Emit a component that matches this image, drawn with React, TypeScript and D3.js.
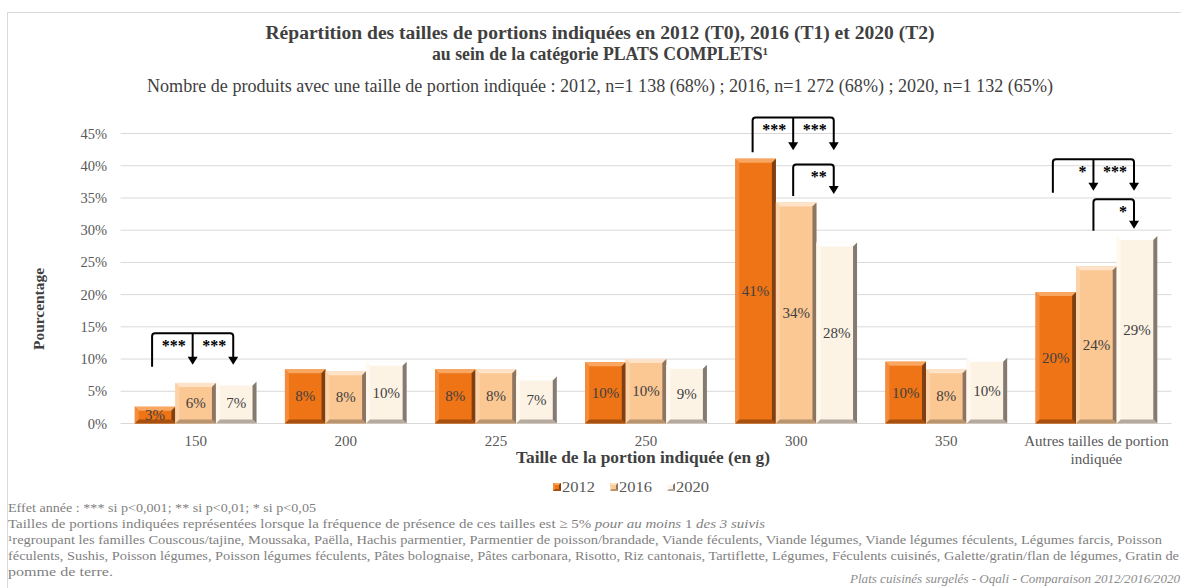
import React from "react";
import * as d3 from "d3";

const categories = ["150", "200", "225", "250", "300", "350", "Autres tailles de portion indiquée"];
const categoryLines = [["150"], ["200"], ["225"], ["250"], ["300"], ["350"], ["Autres tailles de portion", "indiquée"]];
const seriesNames = ["2012", "2016", "2020"];
const values2012 = [2.6, 8.4, 8.4, 9.5, 41.1, 9.6, 20.4];
const values2016 = [6.3, 8.1, 8.4, 10.0, 34.3, 8.4, 24.4];
const values2020 = [6.5, 9.6, 7.3, 9.1, 28.1, 10.2, 29.1];
const seriesValues = [values2012, values2016, values2020];
const yTicks = [0, 5, 10, 15, 20, 25, 30, 35, 40, 45];

// significance brackets: category index, from series, to series, level (%), base (%), labels
const bracketCats = [0, 4, 4, 6, 6];
const bracketFrom = [0, 0, 1, 0, 1];
const bracketTo = [[1, 2], [1, 2], [2], [1, 2], [2]];
const bracketLevel = [14.0, 47.5, 40.2, 41.0, 34.8];
const bracketBase = [8.8, 42.1, 35.3, 35.8, 29.9];
const bracketLabels = [["***", "***"], ["***", "***"], ["**"], ["*", "***"], ["*"]];

const titleLine1 = "Répartition des tailles de portions indiquées en 2012 (T0), 2016 (T1) et 2020 (T2)";
const titleLine2 = "au sein de la catégorie PLATS COMPLETS¹";
const subtitle = "Nombre de produits avec une taille de portion indiquée : 2012, n=1 138 (68%) ; 2016, n=1 272 (68%) ; 2020, n=1 132 (65%)";
const xTitle = "Taille de la portion indiquée (en g)";
const yTitle = "Pourcentage";
const note1 = "Effet année : *** si p<0,001; ** si p<0,01; * si p<0,05";
const note3 = "¹regroupant les familles Couscous/tajine, Moussaka, Paëlla, Hachis parmentier, Parmentier de poisson/brandade, Viande féculents, Viande légumes, Viande légumes féculents, Légumes farcis, Poisson";
const note4 = "féculents, Sushis, Poisson légumes, Poisson légumes féculents, Pâtes bolognaise, Pâtes carbonara, Risotto, Riz cantonais, Tartiflette, Légumes, Féculents cuisinés, Galette/gratin/flan de légumes, Gratin de";
const note5 = "pomme de terre.";
const footer = "Plats cuisinés surgelés - Oqali - Comparaison 2012/2016/2020";

const palettes = [
  { main: "#EF7416", top: "#F8A660", left: "#F38C3C", right: "#7E3F12", bottom: "#A8500F" },
  { main: "#FBC793", top: "#FEE3C8", left: "#FCD3A9", right: "#8E7562", bottom: "#B8946F" },
  { main: "#FDF3E5", top: "#FFFFFF", left: "#FFF9F0", right: "#857A70", bottom: "#B5AA9E" },
];

const FONT = "'Liberation Serif', 'Times New Roman', serif";

function BevelBar({ x, y, w, h, p, b }: any) {
  const bb = Math.min(b, h / 2, w / 2);
  const pts = (arr: number[][]) => arr.map((q) => q.join(",")).join(" ");
  return (
    <g>
      <rect x={x} y={y} width={w} height={h} fill={p.main} />
      <polygon points={pts([[x, y], [x + w, y], [x + w - bb, y + bb], [x + bb, y + bb]])} fill={p.top} />
      <polygon points={pts([[x, y], [x + bb, y + bb], [x + bb, y + h - bb], [x, y + h]])} fill={p.left} />
      <polygon points={pts([[x + w, y], [x + w, y + h], [x + w - bb, y + h - bb], [x + w - bb, y + bb]])} fill={p.right} />
      <polygon points={pts([[x, y + h], [x + w, y + h], [x + w - bb, y + h - bb], [x + bb, y + h - bb]])} fill={p.bottom} />
    </g>
  );
}

export default function App() {
  const W = 1181;
  const H = 588;
  const x0 = 120.6;
  const x1 = 1171.5;
  const gap = 0.7 / 3.7;
  const xScale = d3.scaleBand<string>().domain(categories).range([x0, x1]).paddingInner(gap).paddingOuter(gap / 2);
  const sScale = d3.scaleBand<string>().domain(seriesNames).range([0, xScale.bandwidth()]).padding(0);
  const yScale = d3.scaleLinear().domain([0, 45]).range([423.5, 133.5]);

  const barCenter = (ci: number, si: number) =>
    (xScale(categories[ci]) as number) + (sScale(seriesNames[si]) as number) + sScale.bandwidth() / 2;

  const grey = "#595959";
  const dark = "#404040";
  const noteColor = "#7F7F7F";

  return (
    <svg width={W} height={H} style={{ position: "absolute", left: 0, top: 0, display: "block" }} fontFamily={FONT}>
      <rect x={0} y={0} width={W} height={H} fill="#fff" />
      <rect x={7.5} y={12.5} width={1300} height={700} fill="none" stroke="#D9D9D9" strokeWidth={1} />

      {/* titles */}
      <text x={600} y={39} textAnchor="middle" fontWeight="bold" fontSize={18} fill={dark} textLength={669} lengthAdjust="spacingAndGlyphs">{titleLine1}</text>
      <text x={600} y={60} textAnchor="middle" fontWeight="bold" fontSize={18} fill={dark} textLength={336} lengthAdjust="spacingAndGlyphs">{titleLine2}</text>
      <text x={600} y={92} textAnchor="middle" fontSize={18} fill={dark} textLength={906} lengthAdjust="spacingAndGlyphs">{subtitle}</text>

      {/* grid + y ticks */}
      {yTicks.map((t) => (
        <g key={t}>
          <line x1={x0} x2={x1} y1={yScale(t)} y2={yScale(t)} stroke="#D9D9D9" strokeWidth={1} />
          <text x={107} y={yScale(t) + 5} textAnchor="end" fontSize={14.5} fill={grey}>{t + "%"}</text>
        </g>
      ))}

      {/* bars */}
      {seriesValues.map((vals, si) =>
        vals.map((v, ci) => {
          const bx = (xScale(categories[ci]) as number) + (sScale(seriesNames[si]) as number);
          const by = yScale(v);
          const bh = yScale(0) - by;
          return (
            <g key={si + "-" + ci}>
              <BevelBar x={bx} y={by} w={sScale.bandwidth()} h={bh} p={palettes[si]} b={4} />
              <text x={bx + sScale.bandwidth() / 2} y={by + bh / 2 + 5} textAnchor="middle" fontSize={15} fill={dark}>
                {Math.round(v) + "%"}
              </text>
            </g>
          );
        })
      )}

      {/* x labels */}
      {categoryLines.map((lines, ci) => (
        <text key={ci} x={(xScale(categories[ci]) as number) + xScale.bandwidth() / 2} y={446} textAnchor="middle" fontSize={15} fill={grey}>
          {lines.map((l, li) => (
            <tspan key={li} x={(xScale(categories[ci]) as number) + xScale.bandwidth() / 2} dy={li === 0 ? 0 : 17.5}>{l}</tspan>
          ))}
        </text>
      ))}

      <text x={643} y={463} textAnchor="middle" fontWeight="bold" fontSize={16} fill={dark} textLength={254} lengthAdjust="spacingAndGlyphs">{xTitle}</text>
      <text transform="translate(44,309) rotate(-90)" textAnchor="middle" fontWeight="bold" fontSize={15} fill={dark} textLength={82} lengthAdjust="spacingAndGlyphs">{yTitle}</text>

      {/* brackets */}
      {bracketCats.map((ci, bi) => {
        const lx = barCenter(ci, bracketFrom[bi]) - 3;
        const targets = bracketTo[bi].map((si) => barCenter(ci, si) - 3);
        const rx = targets[targets.length - 1];
        const ty = yScale(bracketLevel[bi]);
        const by = yScale(bracketBase[bi]);
        const tip = by - 2;
        const r = 3;
        const path = `M${lx},${by} L${lx},${ty + r} Q${lx},${ty} ${lx + r},${ty} L${rx - r},${ty} Q${rx},${ty} ${rx},${ty + r} L${rx},${tip - 7}`;
        return (
          <g key={bi}>
            <path d={path} fill="none" stroke="#000" strokeWidth={2} />
            {targets.slice(0, -1).map((tx, k) => (
              <line key={k} x1={tx} x2={tx} y1={ty} y2={tip - 7} stroke="#000" strokeWidth={2} />
            ))}
            {targets.map((tx, k) => (
              <polygon key={"a" + k} points={`${tx - 5},${tip - 8} ${tx + 5},${tip - 8} ${tx},${tip}`} fill="#000" />
            ))}
            {bracketLabels[bi].map((lab, k) => (
              <text key={"l" + k} x={targets[k] - 7} y={ty + 18} textAnchor="end" fontSize={16} fontWeight="bold" fill="#000">{lab}</text>
            ))}
          </g>
        );
      })}

      {/* legend */}
      {seriesNames.map((s, si) => {
        const lx = 553 + si * 57;
        return (
          <g key={s}>
            <BevelBar x={lx} y={483} w={8} h={8} p={palettes[si]} b={2} />
            <text x={lx + 9} y={492} fontSize={15.5} fill={grey} textLength={33} lengthAdjust="spacingAndGlyphs">{s}</text>
          </g>
        );
      })}

      {/* notes */}
      <g fontSize={13} fill={noteColor}>
        <text x={8} y={512} textLength={308} lengthAdjust="spacingAndGlyphs">{note1}</text>
        <text x={8} y={528} textLength={757} lengthAdjust="spacingAndGlyphs">
          Tailles de portions indiquées représentées lorsque la fréquence de présence de ces tailles est ≥ 5%{" "}
          <tspan fontStyle="italic">pour au moins</tspan> 1 <tspan fontStyle="italic">des 3 suivis</tspan>
        </text>
        <text x={8} y={544} textLength={1154} lengthAdjust="spacingAndGlyphs">{note3}</text>
        <text x={8} y={560} textLength={1171} lengthAdjust="spacingAndGlyphs">{note4}</text>
        <text x={8} y={576} textLength={105} lengthAdjust="spacingAndGlyphs">{note5}</text>
      </g>
      <text x={1180} y={583} textAnchor="end" fontSize={12.5} fontStyle="italic" fill="#8C8C8C" textLength={330} lengthAdjust="spacingAndGlyphs">{footer}</text>
    </svg>
  );
}
